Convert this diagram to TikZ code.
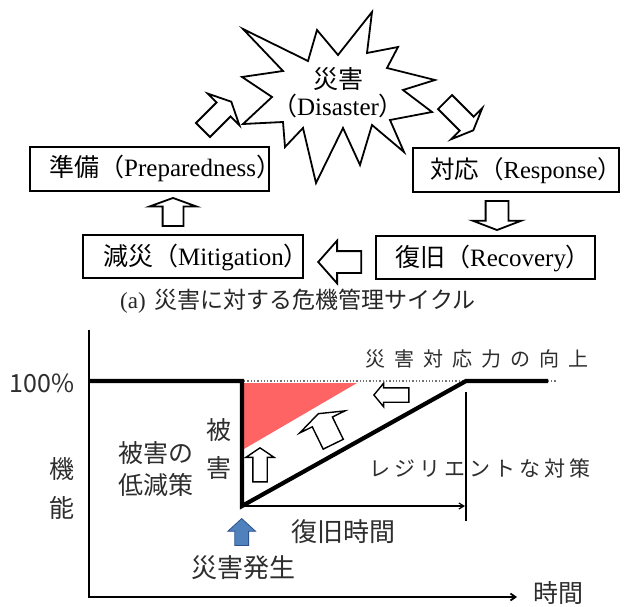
\documentclass[tikz,border=0pt]{standalone}
\usepackage{fontspec}
\setmainfont{Liberation Serif}
\newfontfamily\jp{Noto Sans CJK JP}
\usetikzlibrary{shapes.arrows,arrows.meta}
\newcommand\lsp{\hspace{9pt}}
\newcommand\lspb{\hspace{4pt}}
\begin{document}
\begin{tikzpicture}[x=1pt,y=-1pt,
  box/.style={draw, line width=2.3pt, inner sep=0pt},
  toptext/.style={inner sep=0pt, font=\fontsize{25}{30}\selectfont},
  jt/.style={inner sep=0pt, text=black!82, align=center},
  barrow/.style n args={4}{single arrow, draw=black, fill=white, line width=1.8pt,
    inner sep=0pt, text height=#2, text depth=0pt, minimum width=0pt,
    minimum height=#1, single arrow head extend=#3, single arrow tip angle=#4, anchor=tip},
  sarrow/.style n args={4}{barrow={#1}{#2}{#3}{#4}, line width=1.4pt},
  burst/.style={draw, line width=1.8pt, line join=miter, fill=white},
  thick/.style={line width=4.2pt, line join=miter},
  axis/.style={line width=1.8pt},
  dim/.style={line width=1.2pt},
]
\fill[white] (0,0) rectangle (624,607);
\useasboundingbox (0,0) rectangle (624,607);

% ---------- (a) crisis management cycle ----------
\draw[burst] (243,29) -- (308,61) -- (317,30) -- (338,55) -- (372,12) -- (367,53)
  -- (398,47) -- (387,68) -- (435,80) -- (403,90) -- (432,112) -- (390,120)
  -- (404,152) -- (372,125) -- (360,165) -- (343,128) -- (316,183) -- (303,128)
  -- (285,147) -- (283,122) -- (243,124) -- (272,97) -- (242,77) -- (283,71) -- cycle;
\node[toptext, align=center] (dis) at (338,93) {{\jp 災害}\\[-3pt]{\jp （}Disaster{\jp ）}};

\node[box, minimum width=239pt, minimum height=44pt] (prep) at (149.5,169) {};
\node[toptext, anchor=west] (prept) at (49,168) {{\jp 準備（}Preparedness{\jp ）}\hspace{-11pt}};
\node[box, minimum width=206pt, minimum height=44pt] (resp) at (516,170) {};
\node[toptext, anchor=west, font=\fontsize{24.5}{30}\selectfont] (respt) at (430,171) {{\jp 対応（}Response{\jp ）}\hspace{-11pt}};
\node[box, minimum width=219pt, minimum height=43pt] (recov) at (485.5,257.5) {};
\node[toptext, anchor=west] (recovt) at (395,258) {{\jp 復旧（}Recovery{\jp ）}\hspace{-11pt}};
\node[box, minimum width=220pt, minimum height=43pt] (mitig) at (193,256.5) {};
\node[toptext, anchor=west] (mitigt) at (103,257) {{\jp 減災（}Mitigation{\jp ）}\hspace{-11pt}};

\node[barrow={40pt}{18pt}{12.5pt}{128}, rotate=45] (a1) at (232,101) {};
\node[barrow={40pt}{18pt}{12pt}{134}, rotate=-45] (a2) at (474,131) {};
\node[barrow={29pt}{21pt}{13pt}{138}, rotate=-90] (a3) at (497,231) {};
\node[barrow={43pt}{20pt}{10.5pt}{97}, rotate=180] (a4) at (317,262) {};
\node[barrow={28pt}{19pt}{13pt}{140}, rotate=90] (a5) at (173,197) {};

\node[inner sep=0pt, anchor=west, font=\fontsize{23}{28}\selectfont, text=black!85] (cap) at (120,301)
  {(a)\hspace{9pt}{\jp 災害に対する危機管理サイクル}};

% ---------- (b) resilience chart ----------
\fill[fill={rgb,255:red,255;green,100;blue,100}] (244,383) -- (357,383) -- (244,449) -- cycle;
\draw[dotted, line width=1.3pt, black!55] (244,381) -- (556,381);
\draw[axis, -{Straight Barb[length=5pt,width=7pt]}] (89,330) -- (89,597) -- (517,597);
\draw[thick] (88,381) -- (242,381) -- (242,506) -- (466,381) -- (548,381);
\draw[line width=1.5pt] (466,392) -- (466,521);
\draw[dim, -{Straight Barb[length=5pt,width=6pt]}] (244,506) -- (465,506);

\node[sarrow={34pt}{13pt}{7pt}{112}, rotate=90] (b1) at (260,447) {};
\node[sarrow={34pt}{21pt}{14pt}{140}, rotate=116] (b2) at (318,413) {};
\node[sarrow={35pt}{13pt}{4.5pt}{101}, rotate=180] (b3) at (373,395) {};
\node[single arrow, draw={rgb,255:red,47;green,82;blue,143}, fill={rgb,255:red,79;green,129;blue,189},
  line width=0.8pt, inner sep=0pt, text height=13pt, text depth=0pt, minimum width=0pt,
  minimum height=27pt, single arrow head extend=7pt, single arrow tip angle=95,
  anchor=tip, rotate=90] (b4) at (241.7,518) {};

\node[jt, font=\jp\fontsize{25}{30}\selectfont] (pct) at (42,383) {100\%};
\node[jt, font=\jp\fontsize{25}{39}\selectfont] (kino) at (62,488) {機\\能};
\node[jt, font=\jp\fontsize{25}{32}\selectfont] (teigen) at (156,469) {被害の\\低減策};
\node[jt, font=\jp\fontsize{25}{38}\selectfont] (higai) at (219,449) {被\\害};
\node[jt, font=\jp\fontsize{20}{24}\selectfont] (kojo) at (477,359)
  {災\lsp 害\lsp 対\lsp 応\lsp 力\lsp の\lsp 向\lsp 上};
\node[jt, font=\jp\fontsize{21}{25}\selectfont] (resil) at (480,468)
  {レ\lspb ジ\lspb リ\lspb エ\lspb ン\lspb ト\lspb な\lspb 対\lspb 策};
\node[jt, font=\jp\fontsize{26}{30}\selectfont] (fukkyu) at (343,532) {復旧時間};
\node[jt, font=\jp\fontsize{26}{30}\selectfont] (hassei) at (243,568) {災害発生};
\node[jt, font=\jp\fontsize{25}{30}\selectfont, text height=19pt, text depth=2pt] (jikan) at (558,594) {時間};
\end{tikzpicture}
\end{document}
